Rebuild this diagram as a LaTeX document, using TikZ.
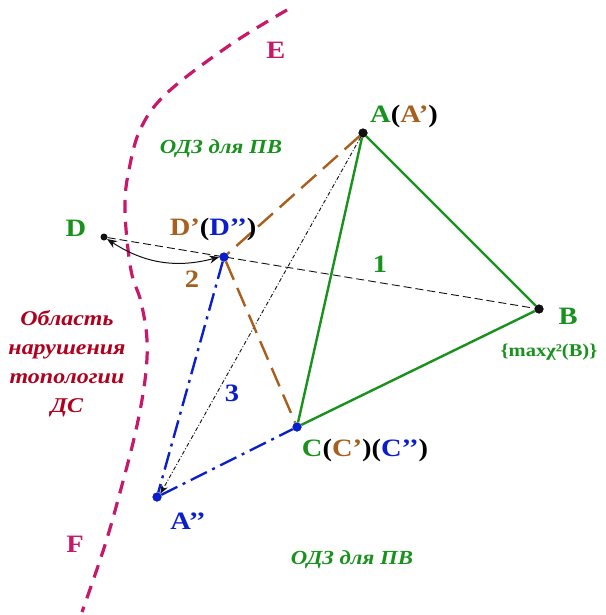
\documentclass[tikz,border=0pt]{standalone}
\usepackage{fontspec}
\setmainfont{Liberation Serif}[FakeStretch=1.14]
\usetikzlibrary{arrows.meta,positioning,calc}
\definecolor{ink}{HTML}{111111}
\definecolor{leaf}{HTML}{18921C}
\definecolor{rust}{HTML}{A85F1E}
\definecolor{deepblue}{HTML}{0A1ECC}
\definecolor{berry}{HTML}{C8186A}
\definecolor{wine}{HTML}{B0001E}
\tikzset{pt/.style={circle,fill=ink,inner sep=0pt,minimum size=9pt},bpt/.style={pt,fill=deepblue},lbl/.style={font=\fontsize{25}{28}\selectfont\bfseries,inner sep=0pt},num/.style={lbl,font=\fontsize{25}{28}\selectfont\bfseries},odz/.style={font=\fontsize{20}{24}\selectfont\bfseries\itshape,text=leaf,inner sep=0pt},side/.style={line width=2.4pt,draw=leaf},moved/.style={line width=2.4pt,draw=rust,dash pattern=on 20pt off 9pt},shrunk/.style={line width=2.4pt,draw=deepblue,dash pattern=on 18pt off 6pt on 3pt off 6pt},ray/.style={line width=.9pt,draw=ink,dash pattern=on 8pt off 4pt},diag/.style={line width=.9pt,draw=ink,dash pattern=on 4pt off 2pt on 1pt off 2pt},border/.style={line width=3.2pt,draw=berry,dash pattern=on 13pt off 9pt},swap/.style={{Stealth[length=10pt,width=8pt]}-{Stealth[length=10pt,width=8pt]},line width=1pt,draw=ink}}

\begin{document}
\begin{tikzpicture}[x=1pt,y=-1pt]
\useasboundingbox (0,0) rectangle (605,615);
% boundary E--F of the admissible region
\draw[border] plot[smooth,tension=.6] coordinates {(287,10) (230,45) (167,93) (140,130) (128,175) (125,205) (127,240) (132,275) (141,302) (147,340) (145,380) (136,430) (122,485) (105,545) (82,612)};
\node[lbl,text=berry] (E) at (276,50) {E};
\node[lbl,text=berry] (F) at (75,544) {F};
% vertices
\node[pt] (A) at (363,133) {};
\node[pt] (B) at (539,309) {};
\node[pt,minimum size=7pt] (D) at (104,237) {};
\node[bpt] (Dp) at (224,257) {};
\node[bpt] (C) at (297,427) {};
\node[bpt] (App) at (157,497) {};
\draw[ray] (D)--(B);
\draw[diag,-{Stealth[length=9pt,width=7pt]}] (A)--(App.north east);
\draw[moved] (A)--(Dp);\draw[moved] (Dp)--(C);
\draw[shrunk] (Dp)--(App);\draw[shrunk] (App)--(C);
\draw[side] (A)--(B);\draw[side] (B)--(C);\draw[side] (C)--(A);
\draw[swap] (D) to[bend right=24] (Dp.west);
\node[bpt] at (Dp) {};\node[bpt] at (C) {};\node[bpt] at (App) {};\node[pt] at (A) {};\node[pt] at (B) {};
% labels
\node[lbl,text=leaf] (lD) at (76,228) {D};
\node[lbl] (lDp) at (213,229) {\textcolor{rust}{D’}(\textcolor{deepblue}{D’’})};
\node[lbl] (lA) at (404,116) {\textcolor{leaf}{A}(\textcolor{rust}{A’})};
\node[lbl,text=leaf] (lB) at (568,316) {B};
\node[lbl,text=leaf,font=\fontsize{18}{20}\selectfont\bfseries,below=19pt of lB.south,xshift=-19pt] (chi) {\{maxχ²(B)\}};
\node[lbl] (lC) at (365,450) {\textcolor{leaf}{C}(\textcolor{rust}{C’})(\textcolor{deepblue}{C’’})};
\node[lbl,text=deepblue] (lApp) at (188,521) {A’’};
\node[num,text=leaf] (n1) at (380,264) {1};
\node[num,text=rust] (n2) at (192,279) {2};
\node[num,text=deepblue] (n3) at (232,393) {3};
\node[odz] (odzTop) at (221,149) {ОДЗ для ПВ};
\node[odz] (odzBot) at (352,560) {ОДЗ для ПВ};
\node[odz,text=wine,align=center,font=\fontsize{21}{29}\selectfont\bfseries\itshape] (viol) at (67,364) {Область\\нарушения\\топологии\\ДС};
\end{tikzpicture}
\end{document}
